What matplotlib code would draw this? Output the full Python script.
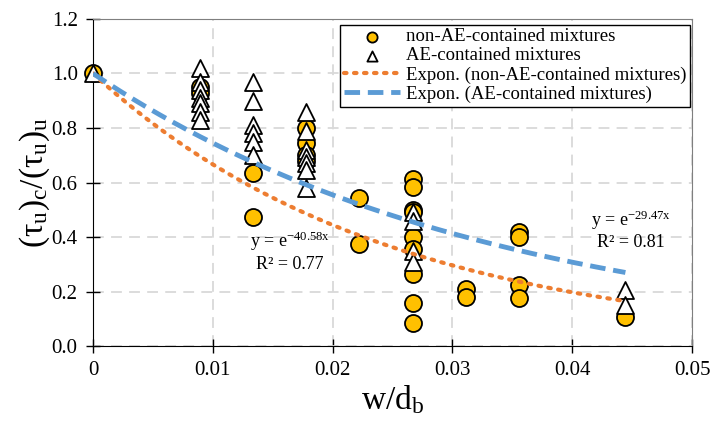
import numpy as np
import matplotlib
matplotlib.use("Agg")
from matplotlib import pyplot as plt

# w/d_b positions (d_b = 22.5)
x_non = [0.0,
         0.00889, 0.00889,
         0.01333, 0.01333,
         0.01778, 0.01778, 0.01778, 0.01778,
         0.02222, 0.02222,
         0.02667, 0.02667, 0.02667, 0.02667, 0.02667, 0.02667, 0.02667, 0.02667, 0.02667,
         0.03111, 0.03111,
         0.03556, 0.03556, 0.03556, 0.03556,
         0.04444]
y_non = [1.0,
         0.95, 0.93,
         0.635, 0.475,
         0.80, 0.745, 0.70, 0.68,
         0.542, 0.374,
         0.614, 0.582, 0.498, 0.49, 0.40, 0.357, 0.265, 0.159, 0.083,
         0.211, 0.18,
         0.419, 0.40, 0.223, 0.175,
         0.105]

x_ae = [0.0,
        0.00889, 0.00889, 0.00889, 0.00889, 0.00889, 0.00889, 0.00889,
        0.01333, 0.01333, 0.01333, 0.01333, 0.01333, 0.01333,
        0.01778, 0.01778, 0.01778, 0.01778, 0.01778, 0.01778, 0.01778,
        0.02667, 0.02667, 0.02667, 0.02667,
        0.04444, 0.04444]
y_ae = [1.0,
        1.02, 0.97, 0.94, 0.91, 0.89, 0.86, 0.83,
        0.968, 0.90, 0.81, 0.78, 0.75, 0.70,
        0.858, 0.79, 0.718, 0.693, 0.67, 0.645, 0.579,
        0.49, 0.46, 0.35, 0.31,
        0.205, 0.15]

k_non = -40.58
k_ae = -29.47
r2_non = 0.77
r2_ae = 0.81

plt.rcParams['font.family'] = ['Liberation Serif', 'DejaVu Serif']
plt.rcParams['mathtext.fontset'] = 'custom'
plt.rcParams['mathtext.rm'] = 'Liberation Serif'
plt.rcParams['mathtext.it'] = 'Liberation Serif:italic'
plt.rcParams['mathtext.bf'] = 'Liberation Serif:bold'
plt.rcParams['axes.unicode_minus'] = False


def function():
    fig = plt.figure(figsize=(7.11, 4.22), dpi=100)
    ax = fig.add_axes([0.1308, 0.180, 0.8425, 0.775])

    ax.scatter(x_non, y_non, s=150, marker='o', facecolor='#FFC000', edgecolor='black',
               linewidth=1.3, zorder=3, clip_on=False, label='non-AE-contained mixtures')
    ax.scatter(x_ae, y_ae, s=150, marker='^', facecolor='white', edgecolor='black',
               linewidth=1.3, zorder=4, clip_on=False, label='AE-contained mixtures')

    xf = np.linspace(0, max(x_non), 200)
    ax.plot(xf, np.exp(k_non * xf), color='#ED7D31', linestyle=(0, (0.6, 1.8)), linewidth=3,
            dash_capstyle='round', zorder=5, label='Expon. (non-AE-contained mixtures)')
    xf2 = np.linspace(0, max(x_ae), 200)
    ax.plot(xf2, np.exp(k_ae * xf2), color='#5B9BD5', linestyle=(0, (3.2, 1.6)), linewidth=3.5,
            zorder=5, label='Expon. (AE-contained mixtures)')

    ax.text(0.0164, 0.385, r'y = e$^{\mathrm{%.2fx}}$' % k_non, fontsize=13, ha='center', va='center')
    ax.text(0.0164, 0.30, 'R² = %.2f' % r2_non, fontsize=13, ha='center', va='center')
    ax.text(0.0449, 0.46, r'y = e$^{\mathrm{%.2fx}}$' % k_ae, fontsize=13, ha='center', va='center')
    ax.text(0.0449, 0.38, 'R² = %.2f' % r2_ae, fontsize=13, ha='center', va='center')

    ax.set_xlim(0, 0.05)
    ax.set_ylim(0, 1.2)
    ax.set_xticks([0, 0.01, 0.02, 0.03, 0.04, 0.05])
    ax.set_xticklabels(['0', '0.01', '0.02', '0.03', '0.04', '0.05'])
    ax.set_yticks(np.arange(0, 1.21, 0.2))
    ax.set_yticklabels(['%.1f' % v for v in np.arange(0, 1.21, 0.2)])
    ax.tick_params(direction='inout', length=10, width=1, labelsize=15, pad=6)

    ax.grid(True, color='#D9D9D9', linestyle=(0, (6, 4)), linewidth=1.3, zorder=0)
    ax.set_axisbelow(True)
    for side in ['top', 'right']:
        ax.spines[side].set_color('#7F7F7F')
    for side in ['left', 'bottom']:
        ax.spines[side].set_color('black')

    ax.set_xlabel(r'w/d$_{\mathrm{b}}$', fontsize=24, labelpad=2)
    ax.set_ylabel(r'$\mathrm{(\tau_u)_c/(\tau_u)_u}$', fontsize=24, labelpad=0)

    leg = ax.legend(loc='upper right', bbox_to_anchor=(0.997, 0.983), fontsize=13.5, frameon=True,
                    fancybox=False, edgecolor='black', framealpha=1, borderpad=0.2,
                    labelspacing=0.1, handlelength=3.0, handletextpad=0.3, borderaxespad=0,
                    markerscale=0.6)
    leg.get_frame().set_linewidth(1)

    fig.savefig('out.png', dpi=100)


function()
